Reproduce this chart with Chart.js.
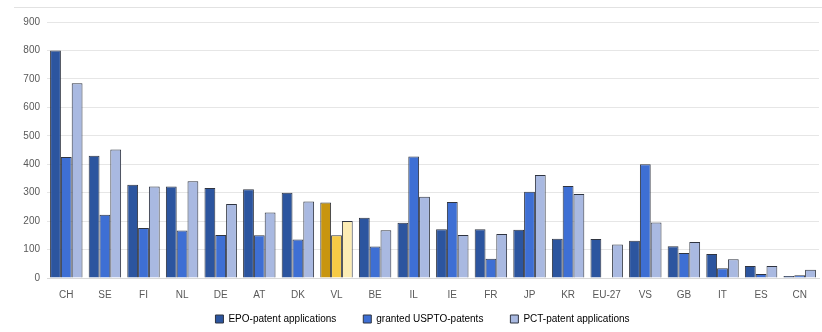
<!DOCTYPE html>
<html>
<head>
<meta charset="utf-8">
<script src="https://cdn.jsdelivr.net/npm/chart.js@4/dist/chart.umd.min.js"></script>
<style>
  html, body { margin: 0; padding: 0; background: #fff; }
  #wrap { position: relative; width: 822px; height: 332px; }
  #frame { position: absolute; left: 14px; right: 0; top: 7px; border-top: 1px solid #e2e2e2; }
  canvas { position: absolute; left: 0; top: 0; }
</style>
</head>
<body>
<div id="wrap">
  <div id="frame"></div>
  <canvas id="chart" width="822" height="332"></canvas>
</div>
<script>
// Länder / Regionen
const COUNTRIES = ['CH', 'SE', 'FI', 'NL', 'DE', 'AT', 'DK', 'VL', 'BE', 'IL',
                   'IE', 'FR', 'JP', 'KR', 'EU-27', 'VS', 'GB', 'IT', 'ES', 'CN'];

// Werte je Reeks
const EPO_VALUES    = [800, 430, 328, 322, 316, 312, 300, 265, 212, 194,
                       171, 171, 170, 138, 137, 131, 112, 84, 42, 7];
const USPTO_VALUES  = [425, 222, 176, 167, 151, 150, 135, 150, 111, 427,
                       267, 68, 303, 323, null, 400, 88, 34, 14, 10];
const PCT_VALUES    = [685, 452, 322, 340, 260, 230, 269, 200, 168, 286,
                       151, 155, 362, 295, 118, 195, 127, 66, 42, 29];

const SERIES_LABELS = ['EPO-patent applications', 'granted USPTO-patents', 'PCT-patent applications'];

const Y_TICKS_MAX = 900;
const HIGHLIGHT = 'VL';

// Farben: blau, Vlaanderen in gelb
const COLORS = {
  epo:   { base: '#2c559f', hl: '#c8950f' },
  uspto: { base: '#3e6fd4', hl: '#f6ca45' },
  pct:   { base: '#a9b9e1', hl: '#fcecb4' },
};
const KEYS = ['epo', 'uspto', 'pct'];
const FONT = { family: 'Liberation Sans, Arial, sans-serif', size: 10 };

function colorsFor(key) {
  return COUNTRIES.map(c => c === HIGHLIGHT ? COLORS[key].hl : COLORS[key].base);
}

function makeDataset(label, data, key) {
  return {
    label,
    data,
    backgroundColor: colorsFor(key),
    borderColor: '#2f3440',
    borderWidth: 1,
    barPercentage: 1.0,
    categoryPercentage: 0.84,
  };
}

// Legende etwas nach rechts schieben (wie im Original)
const legendShift = {
  id: 'legendShift',
  beforeInit(chart) {
    const legend = chart.legend;
    if (!legend) return;
    const fit = legend.fit.bind(legend);
    legend.fit = function () {
      fit();
      if (this.lineWidths && this.lineWidths.length) this.lineWidths[0] -= 26;
    };
  },
};

new Chart(document.getElementById('chart'), {
  type: 'bar',
  data: {
    labels: COUNTRIES,
    datasets: [
      makeDataset(SERIES_LABELS[0], EPO_VALUES, 'epo'),
      makeDataset(SERIES_LABELS[1], USPTO_VALUES, 'uspto'),
      makeDataset(SERIES_LABELS[2], PCT_VALUES, 'pct'),
    ],
  },
  plugins: [legendShift],
  options: {
    responsive: false,
    animation: false,
    layout: { padding: { top: 22, right: 3, bottom: -2, left: 0 } },
    plugins: {
      legend: {
        position: 'bottom',
        labels: {
          boxWidth: 8,
          boxHeight: 8,
          padding: 2,
          color: '#595959',
          font: FONT,
          generateLabels: chart => chart.data.datasets.map((ds, i) => ({
            // Abstand zwischen den Einträgen über Leerzeichen
            text: i < chart.data.datasets.length - 1 ? ds.label + '         ' : ds.label,
            fillStyle: COLORS[KEYS[i]].base,
            strokeStyle: '#2f3440',
            lineWidth: 1,
            datasetIndex: i,
          })),
        },
      },
      tooltip: { enabled: false },
    },
    scales: {
      x: {
        grid: { display: false, drawTicks: false },
        border: { display: true, color: '#d9d9d9' },
        ticks: { color: '#595959', padding: 11, font: FONT },
      },
      y: {
        min: 0,
        max: Y_TICKS_MAX,
        afterFit: axis => { axis.width = 47; },
        grid: { color: '#e6e6e6', drawTicks: false },
        border: { display: false },
        ticks: { stepSize: 100, color: '#595959', padding: 7, font: FONT },
      },
    },
  },
});
</script>
</body>
</html>
